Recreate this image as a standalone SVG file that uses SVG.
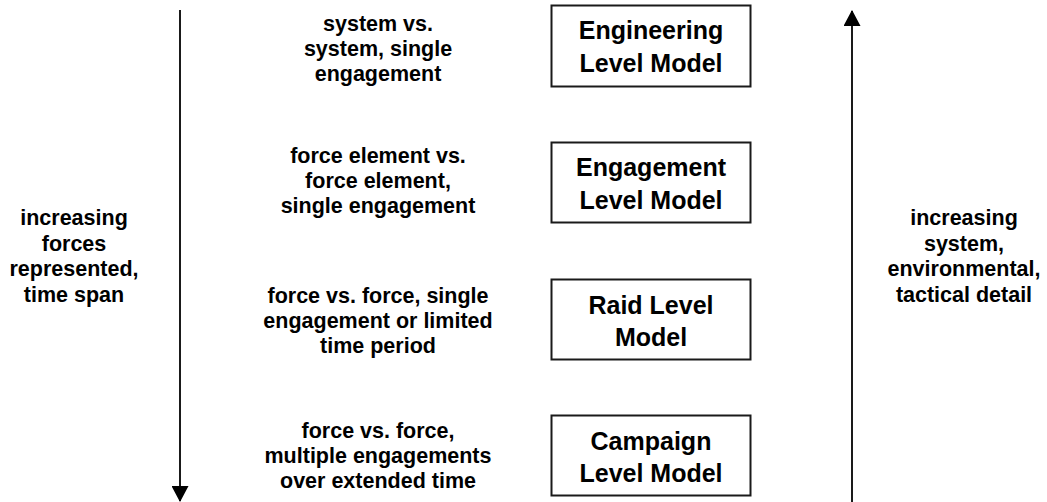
<svg xmlns="http://www.w3.org/2000/svg" width="1047" height="502" viewBox="0 0 1047 502">
<style>
.box{fill:#fff;stroke:#1a1a1a;stroke-width:2}
.bt{font-family:"Liberation Sans",Arial,sans-serif;font-weight:bold;font-size:25px;text-anchor:middle;fill:#000}
.t{font-family:"Liberation Sans",Arial,sans-serif;font-weight:bold;font-size:21.5px;text-anchor:middle;fill:#000}
.ln{stroke:#1a1a1a;stroke-width:2;fill:none}
</style>
<defs>
<marker id="ah" markerUnits="userSpaceOnUse" markerWidth="17" markerHeight="17" viewBox="0 0 16 17" refX="15" refY="8.5" orient="auto">
<path d="M0,0 L16,8.5 L0,17 Z" fill="#000"/>
</marker>
</defs>
<g id="connectors">
<line class="ln" x1="180" y1="10" x2="180" y2="501" marker-end="url(#ah)"/>
<line class="ln" x1="852" y1="502" x2="852" y2="11" marker-end="url(#ah)"/>
</g>
<g id="engineering">
<rect class="box" x="551.5" y="5.5" width="199" height="81"/>
<text class="bt" x="651" y="39">Engineering</text>
<text class="bt" x="651" y="72">Level Model</text>
</g>
<g id="engagement">
<rect class="box" x="551.5" y="142.5" width="199" height="80"/>
<text class="bt" x="651" y="176">Engagement</text>
<text class="bt" x="651" y="209">Level Model</text>
</g>
<g id="raid">
<rect class="box" x="551.5" y="279.5" width="199" height="80"/>
<text class="bt" x="651" y="314">Raid Level</text>
<text class="bt" x="651" y="346">Model</text>
</g>
<g id="campaign">
<rect class="box" x="551.5" y="415.5" width="199" height="80"/>
<text class="bt" x="651" y="450">Campaign</text>
<text class="bt" x="651" y="482">Level Model</text>
</g>
<g id="desc-engineering">
<text class="t" x="378" y="31">system vs.</text>
<text class="t" x="378" y="56">system, single</text>
<text class="t" x="378" y="81">engagement</text>
</g>
<g id="desc-engagement">
<text class="t" x="378" y="163">force element vs.</text>
<text class="t" x="378" y="188">force element,</text>
<text class="t" x="378" y="213">single engagement</text>
</g>
<g id="desc-raid">
<text class="t" x="378" y="303">force vs. force, single</text>
<text class="t" x="378" y="328">engagement or limited</text>
<text class="t" x="378" y="353">time period</text>
</g>
<g id="desc-campaign">
<text class="t" x="378" y="438">force vs. force,</text>
<text class="t" x="378" y="463">multiple engagements</text>
<text class="t" x="378" y="488">over extended time</text>
</g>
<g id="left-label">
<text class="t" x="74" y="225">increasing</text>
<text class="t" x="74" y="250.5">forces</text>
<text class="t" x="74" y="276">represented,</text>
<text class="t" x="74" y="301.5">time span</text>
</g>
<g id="right-label">
<text class="t" x="964" y="225">increasing</text>
<text class="t" x="964" y="250.5">system,</text>
<text class="t" x="964" y="276">environmental,</text>
<text class="t" x="964" y="301.5">tactical detail</text>
</g>
</svg>
